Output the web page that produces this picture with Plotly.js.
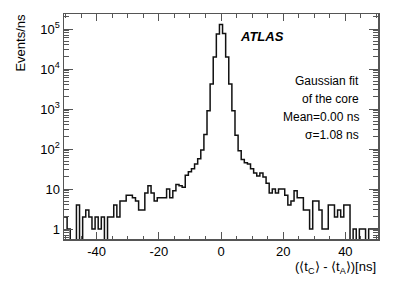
<!DOCTYPE html>
<html>
<head>
<meta charset="utf-8">
<script src="https://cdn.plot.ly/plotly-3.0.1.min.js"></script>
<style>
  html, body { margin: 0; padding: 0; background: #fff; }
  #chart { width: 399px; height: 286px; }
</style>
</head>
<body>
<div id="chart"></div>
<script>
// Histogram of <t_C> - <t_A> in 1 ns bins, bin centres -50 ... 50 ns
const binFirstCenter = -50;
const binWidth = 1;
const eventsPerNs = [
  2, 1, 0, 0, 4, 0, 2, 3, 2, 1,          // -50 .. -41
  2, 1, 2, 0, 2, 2, 4, 2, 5, 5,          // -40 .. -31
  7, 7, 6, 5, 3, 3, 8, 12, 8, 5,         // -30 .. -21
  6, 6, 6, 10, 6, 9, 13, 12, 11, 22,     // -20 .. -11
  27, 32, 42, 57, 95, 230, 910, 4200, 20000, 75000, // -10 .. -1
  130000,                                // 0
  77000, 20000, 4200, 900, 220, 90, 55, 45, 42, 32, // 1 .. 10
  25, 21, 25, 20, 14, 8, 10, 8, 10, 10,  // 11 .. 20
  7, 4, 5, 9, 6, 6, 3, 3, 1, 5,          // 21 .. 30
  5, 3, 1, 1, 4, 4, 2, 3, 2, 4,          // 31 .. 40
  4, 0, 1, 0, 1, 1, 0, 1, 1, 1           // 41 .. 50
];
const yTickVals = [1, 10, 100, 1000, 10000, 100000];
const yTickText = ['1', '10', '10<sup>2</sup>', '10<sup>3</sup>', '10<sup>4</sup>', '10<sup>5</sup>'];
const xTickVals = [-40, -20, 0, 20, 40];
const xTickText = ['-40', '-20', '0', '20', '40'];
const infoLines = ['Gaussian fit', 'of the core', 'Mean=0.00 ns', '\u03c3=1.08 ns'];

// step outline: edges + values (empty bins drop below the axis floor)
const edges = [];
const stepY = [];
for (let i = 0; i < eventsPerNs.length; i++) {
  edges.push(binFirstCenter + (i - 0.5) * binWidth);
  stepY.push(eventsPerNs[i] > 0 ? eventsPerNs[i] : 1e-3);
}
edges.push(binFirstCenter + (eventsPerNs.length - 0.5) * binWidth);
stepY.push(stepY[stepY.length - 1]);

const FONT = 'Liberation Sans, Arial, Helvetica, sans-serif';
const AX = '#555';

const trace = {
  x: edges, y: stepY, type: 'scatter', mode: 'lines',
  line: { shape: 'hv', color: '#111', width: 1.5 },
  hoverinfo: 'skip'
};

const ann = [
  { text: '<b><i>ATLAS</i></b>', xref: 'paper', yref: 'paper', x: 0.555, y: 0.898,
    xanchor: 'left', yanchor: 'middle', showarrow: false, font: { family: FONT, size: 13, color: '#000' } },
  { text: 'Events/ns', xref: 'paper', yref: 'paper', x: -0.137, y: 0.873, textangle: -90,
    xanchor: 'center', yanchor: 'middle', showarrow: false,
    font: { family: FONT, size: 13, color: '#000' } },
  { text: '(\u27e8t<sub>C</sub>\u27e9 - \u27e8t<sub>A</sub>\u27e9)[ns]', xref: 'paper', yref: 'paper', x: 1.0, y: -0.128,
    xanchor: 'right', yanchor: 'middle', showarrow: false, font: { family: FONT, size: 13, color: '#000' } }
];
const infoY = [0.702, 0.622, 0.542, 0.462];
infoLines.forEach((t, i) => ann.push({
  text: t, xref: 'paper', yref: 'paper', x: 0.946, y: infoY[i],
  xanchor: 'right', yanchor: 'middle', showarrow: false, font: { family: FONT, size: 12, color: '#000' }
}));

const layout = {
  width: 399, height: 286,
  margin: { l: 64, r: 21, t: 14, b: 47, pad: 0 },
  paper_bgcolor: '#fff', plot_bgcolor: '#fff',
  showlegend: false,
  font: { family: FONT, size: 13, color: '#000' },
  xaxis: {
    range: [-50.5, 50.5], tickmode: 'array', tickvals: xTickVals, ticktext: xTickText,
    ticks: 'inside', ticklen: 7, tickwidth: 1, tickcolor: AX,
    showline: true, linecolor: AX, linewidth: 1.5, mirror: 'allticks',
    showgrid: false, zeroline: false,
    tickfont: { family: FONT, size: 13, color: '#000' },
    minor: { tickmode: 'linear', tick0: 0, dtick: 5, ticks: 'inside', ticklen: 3.5, tickcolor: AX, tickwidth: 1, showgrid: false }
  },
  yaxis: {
    type: 'log', range: [-0.25, 5.375], tickmode: 'array', tickvals: yTickVals, ticktext: yTickText,
    ticks: 'inside', ticklen: 9, tickwidth: 1, tickcolor: AX,
    showline: true, linecolor: AX, linewidth: 1.5, mirror: 'allticks',
    showgrid: false, zeroline: false,
    tickfont: { family: FONT, size: 13, color: '#000' },
    minor: { dtick: 'D1', ticks: 'inside', ticklen: 5, tickcolor: AX, tickwidth: 1, showgrid: false }
  },
  annotations: ann
};

Plotly.newPlot('chart', [trace], layout, { staticPlot: true, displayModeBar: false });
</script>
</body>
</html>
